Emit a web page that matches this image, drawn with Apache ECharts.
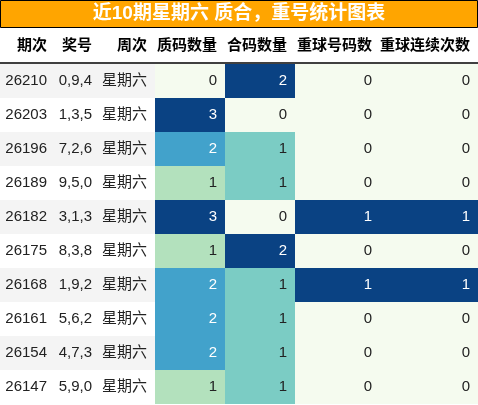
<!DOCTYPE html><html><head><meta charset="utf-8">
<script src="https://cdn.jsdelivr.net/npm/echarts@6/dist/echarts.min.js"></script>
<style>html,body{margin:0;padding:0;background:#fff}#c{width:478px;height:405px}</style></head><body><div id="c"></div><script>
const title = '近10期星期六 质合，重号统计图表';
const headers = ['期次','奖号','周次','质码数量','合码数量','重球号码数','重球连续次数'];
const issues = ['26210','26203','26196','26189','26182','26175','26168','26161','26154','26147'];
const numbers = ['0,9,4','1,3,5','7,2,6','9,5,0','3,1,3','8,3,8','1,9,2','5,6,2','4,7,3','5,9,0'];
const weekday = ['星期六','星期六','星期六','星期六','星期六','星期六','星期六','星期六','星期六','星期六'];
const primeCount = [0,3,2,1,3,1,2,2,2,1];
const compositeCount = [2,0,1,1,0,2,1,1,1,1];
const repeatCount = [0,0,0,0,1,0,1,0,0,0];
const repeatStreak = [0,0,0,0,1,0,1,0,0,0];

const edges = [0,55,100,155,225,295,380,478];
const FONT = '"Liberation Sans","Noto Sans CJK SC",sans-serif';
function colorFor(r){
  if (r<=0) return '#f5fbef';
  if (r<0.4) return '#b3e1bd';
  if (r<0.6) return '#7bccc4';
  if (r<0.9) return '#42a2cb';
  return '#0a4283';
}
const data = [];
const numCols = [primeCount, compositeCount, repeatCount, repeatStreak];
issues.forEach((iss,i)=>{
  const bg = i%2===0 ? '#f4f4f4' : '#ffffff';
  data.push([0,i,iss,bg,'#222']);
  data.push([1,i,numbers[i],bg,'#222']);
  data.push([2,i,weekday[i],bg,'#222']);
  numCols.forEach((arr,k)=>{
    const mx = Math.max(...arr);
    const r = mx ? arr[i]/mx : 0;
    data.push([3+k,i,String(arr[i]),colorFor(r), r>0.6?'#fff':'#222']);
  });
});
const chart = echarts.init(document.getElementById('c'));
chart.setOption({
  animation:false,
  grid:{left:0,right:0,top:64,bottom:1},
  xAxis:{type:'value',min:0,max:478,show:false},
  yAxis:{type:'category',inverse:true,data:issues,show:false},
  series:[{type:'custom',data:data,
    renderItem:function(params,api){
      const c = api.value(0), row = api.value(1);
      const p0 = api.coord([edges[c],row]);
      const p1 = api.coord([edges[c+1],row]);
      const h = api.size([0,1])[1];
      const d = data[params.dataIndex];
      return {type:'group',children:[
        {type:'rect',shape:{x:p0[0],y:p0[1]-h/2,width:p1[0]-p0[0],height:h},style:{fill:d[3]}},
        {type:'text',style:{text:d[2],x:p1[0]-8,y:p0[1],align:'right',verticalAlign:'middle',fill:d[4],font:'15px '+FONT}}
      ]};
    }}],
  graphic:[
    {type:'rect',shape:{x:0.5,y:0.5,width:477,height:27},style:{fill:'#ffa500',stroke:'#000',lineWidth:1}},
    {type:'text',x:239,y:14,style:{text:title,align:'center',verticalAlign:'middle',fill:'#fff',font:'bold 19px '+FONT}},
    {type:'line',shape:{x1:0,y1:63,x2:478,y2:63},style:{stroke:'#000',lineWidth:1.5}}
  ].concat(headers.map((h,i)=>({type:'text',x:edges[i+1]-8,y:46,style:{text:h,align:'right',verticalAlign:'middle',fill:'#000',font:'bold 15px '+FONT}})))
});
</script></body></html>
